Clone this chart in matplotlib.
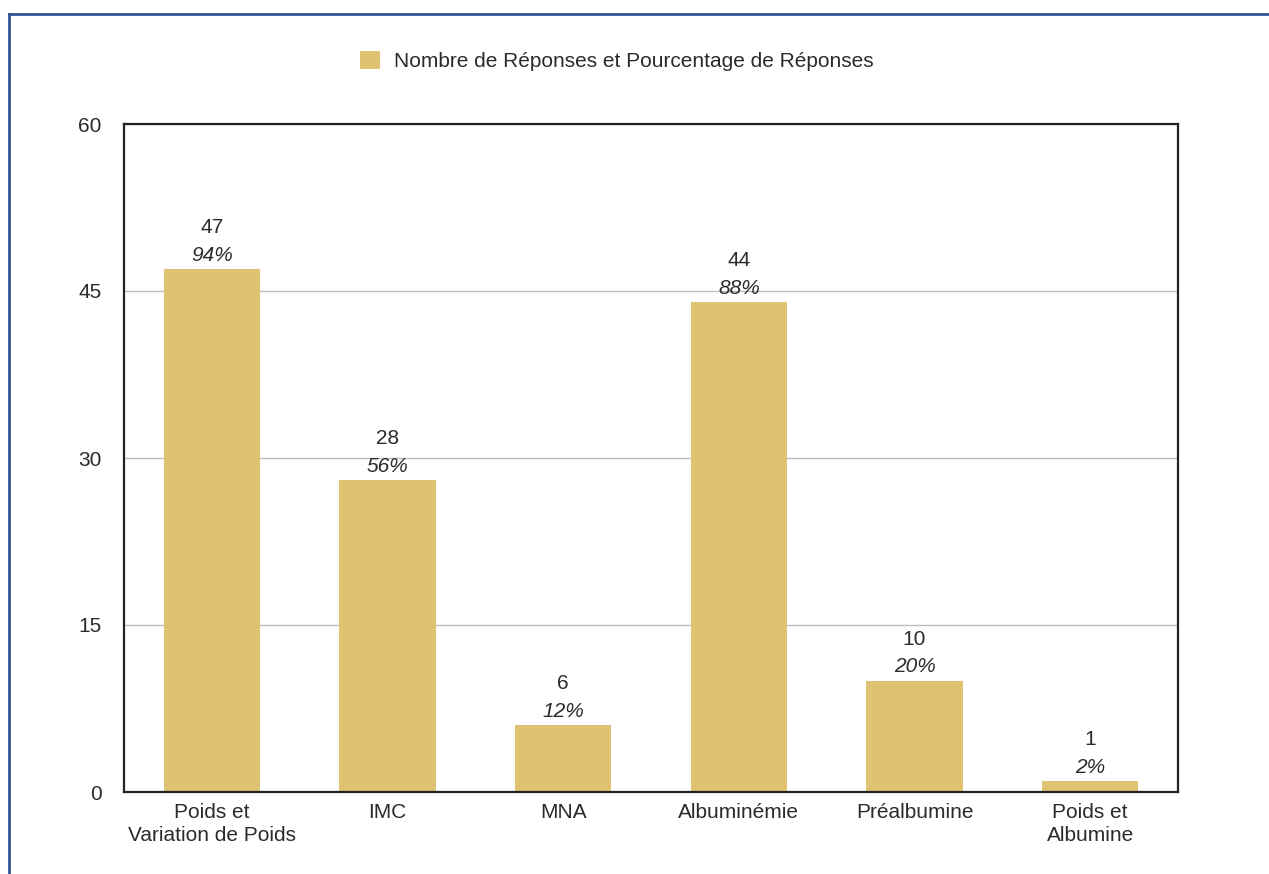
import matplotlib.pyplot as plt
from matplotlib.lines import Line2D

categories = ["Poids et\nVariation de Poids", "IMC", "MNA", "Albuminémie",
              "Préalbumine", "Poids et\nAlbumine"]
counts = [47, 28, 6, 44, 10, 1]
percents = ["94%", "56%", "12%", "88%", "20%", "2%"]
yticks = [0, 15, 30, 45, 60]

bar_color = "#dfc272"
text_color = "#2b2b2b"

plt.rcParams['font.family'] = ['Liberation Sans', 'DejaVu Sans']

fig = plt.figure(figsize=(12.69, 8.74), dpi=100)
ax = fig.add_axes([124 / 1269, 1 - 792 / 874, (1178 - 124) / 1269, (792 - 124) / 874])

x = range(len(categories))
ax.bar(x, counts, width=0.55, color=bar_color, zorder=2,
       label="Nombre de Réponses et Pourcentage de Réponses")

for i, (c, p) in enumerate(zip(counts, percents)):
    ax.annotate(p, (i, c), xytext=(0, 3), textcoords="offset points",
                ha="center", va="bottom", fontsize=15, style="italic", color=text_color)
    ax.annotate(str(c), (i, c), xytext=(0, 23), textcoords="offset points",
                ha="center", va="bottom", fontsize=15, color=text_color)

ax.set_xlim(-0.5, len(categories) - 0.5)
ax.set_ylim(0, 60)
ax.set_yticks(yticks)
ax.set_xticks(list(x))
ax.set_xticklabels(categories, fontsize=15, color=text_color, linespacing=1.25)
ax.tick_params(axis="y", length=0, pad=16, labelsize=15, labelcolor=text_color)
ax.tick_params(axis="x", length=0, pad=8)
ax.yaxis.grid(True, color="#bdbdbd", linewidth=1, zorder=0)
ax.set_axisbelow(True)
for s in ax.spines.values():
    s.set_linewidth(1.6)
    s.set_color("#222222")

leg = fig.legend(loc="center", bbox_to_anchor=(617 / 1269, 1 - 61 / 874), frameon=False,
                 fontsize=15, handlelength=0.95, handleheight=0.95, handletextpad=0.7)
for t in leg.get_texts():
    t.set_color(text_color)

# blue frame at top and left
fig.add_artist(Line2D([9 / 1269, 9 / 1269], [0, 1 - 14 / 874], transform=fig.transFigure,
                      color="#2e5597", linewidth=2))
fig.add_artist(Line2D([9 / 1269, 1], [1 - 14 / 874, 1 - 14 / 874], transform=fig.transFigure,
                      color="#2e5597", linewidth=2))

fig.savefig("out.png", dpi=100)
